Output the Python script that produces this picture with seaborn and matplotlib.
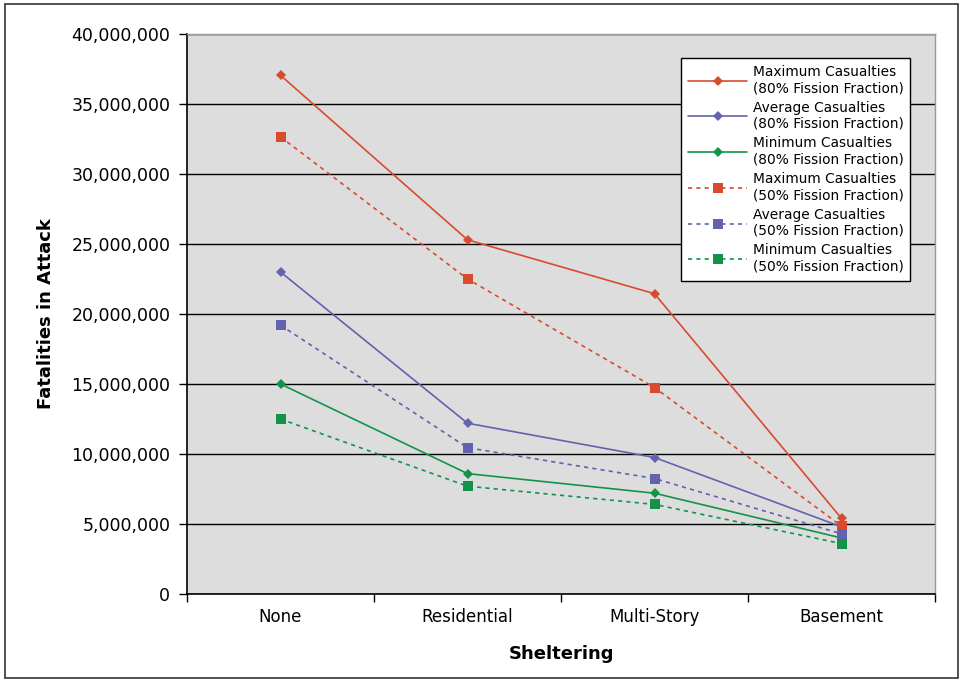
import matplotlib
matplotlib.use('Agg')
import matplotlib.pyplot as plt
import seaborn as sns
import pandas as pd
from matplotlib.patches import Rectangle
from matplotlib.ticker import FuncFormatter, FixedLocator

sheltering = ['None', 'Residential', 'Multi-Story', 'Basement']

max_80 = [37.05e6, 25.3e6, 21.45e6, 5.4e6]
avg_80 = [23.0e6, 12.2e6, 9.75e6, 4.8e6]
min_80 = [15.0e6, 8.6e6, 7.2e6, 4.0e6]
max_50 = [32.65e6, 22.5e6, 14.75e6, 4.85e6]
avg_50 = [19.2e6, 10.45e6, 8.25e6, 4.3e6]
min_50 = [12.5e6, 7.7e6, 6.4e6, 3.6e6]

series_labels = [
    'Maximum Casualties\n(80% Fission Fraction)',
    'Average Casualties\n(80% Fission Fraction)',
    'Minimum Casualties\n(80% Fission Fraction)',
    'Maximum Casualties\n(50% Fission Fraction)',
    'Average Casualties\n(50% Fission Fraction)',
    'Minimum Casualties\n(50% Fission Fraction)',
]
series_values = [max_80, avg_80, min_80, max_50, avg_50, min_50]

red = '#D84B2E'
blue = '#6262AE'
green = '#13934A'
colors = [red, blue, green, red, blue, green]

sns.set_style('white')
plt.rcParams['font.family'] = ['DejaVu Sans']
plt.rcParams['text.color'] = 'black'
plt.rcParams['axes.labelcolor'] = 'black'
plt.rcParams['xtick.color'] = 'black'
plt.rcParams['ytick.color'] = 'black'

fig = plt.figure(figsize=(9.64, 6.82), dpi=100)
ax = fig.add_axes([187/964, 1 - 594/682, 748/964, 560/682])
ax.set_facecolor('#DDDDDD')

for i, (lab, vals) in enumerate(zip(series_labels, series_values)):
    df = pd.DataFrame({'Sheltering': sheltering, 'Fatalities': vals})
    if i < 3:
        sns.lineplot(data=df, x='Sheltering', y='Fatalities', ax=ax, color=colors[i],
                     linewidth=1.2, marker='D', markersize=5, markeredgewidth=0,
                     label=lab, sort=False, zorder=3)
    else:
        sns.lineplot(data=df, x='Sheltering', y='Fatalities', ax=ax, color=colors[i],
                     linewidth=1.2, linestyle=(0, (2.5, 2.5)), marker='s', markersize=7,
                     markeredgewidth=0, label=lab, sort=False, zorder=3)

ax.set_xlim(-0.5, 3.5)
ax.set_ylim(0, 40e6)
ax.set_yticks([i * 5e6 for i in range(9)])
ax.yaxis.set_major_formatter(FuncFormatter(lambda v, p: f'{int(v):,}'))
ax.grid(axis='y', color='black', linewidth=1.0, zorder=1)
ax.set_axisbelow(True)

# category labels centred, tick marks on boundaries
ax.xaxis.set_major_locator(FixedLocator([-0.5, 0.5, 1.5, 2.5, 3.5]))
ax.set_xticklabels([])
ax.xaxis.set_minor_locator(FixedLocator([0, 1, 2, 3]))
ax.set_xticklabels(sheltering, minor=True)
ax.tick_params(axis='x', which='major', direction='out', length=6, width=1, color='black', bottom=True)
ax.tick_params(axis='x', which='minor', length=0, pad=10, labelsize=12)
ax.tick_params(axis='y', direction='out', length=6, width=1, color='black', left=True, labelsize=12.5, pad=6)

for s in ['left', 'bottom']:
    ax.spines[s].set_color('black')
    ax.spines[s].set_linewidth(1.2)
for s in ['top', 'right']:
    ax.spines[s].set_color('#999999')
    ax.spines[s].set_linewidth(1.0)

ax.set_xlabel('Sheltering', fontsize=13, fontweight='bold', labelpad=14)
ax.set_ylabel('Fatalities in Attack', fontsize=13, fontweight='bold', labelpad=12)

leg = ax.legend(loc='upper right', bbox_to_anchor=(0.967, 0.957), borderaxespad=0,
                fontsize=9.9, frameon=True, fancybox=False, edgecolor='black',
                facecolor='white', framealpha=1, handlelength=4.3, handletextpad=0.4,
                labelspacing=0.4, borderpad=0.5)
leg.get_frame().set_linewidth(1.0)

fig.patches.append(Rectangle((5/964, 4/682), 953/964, 674/682, transform=fig.transFigure,
                             fill=False, edgecolor='#333333', linewidth=1.2))

fig.savefig('out.png', dpi=100, facecolor='white')
